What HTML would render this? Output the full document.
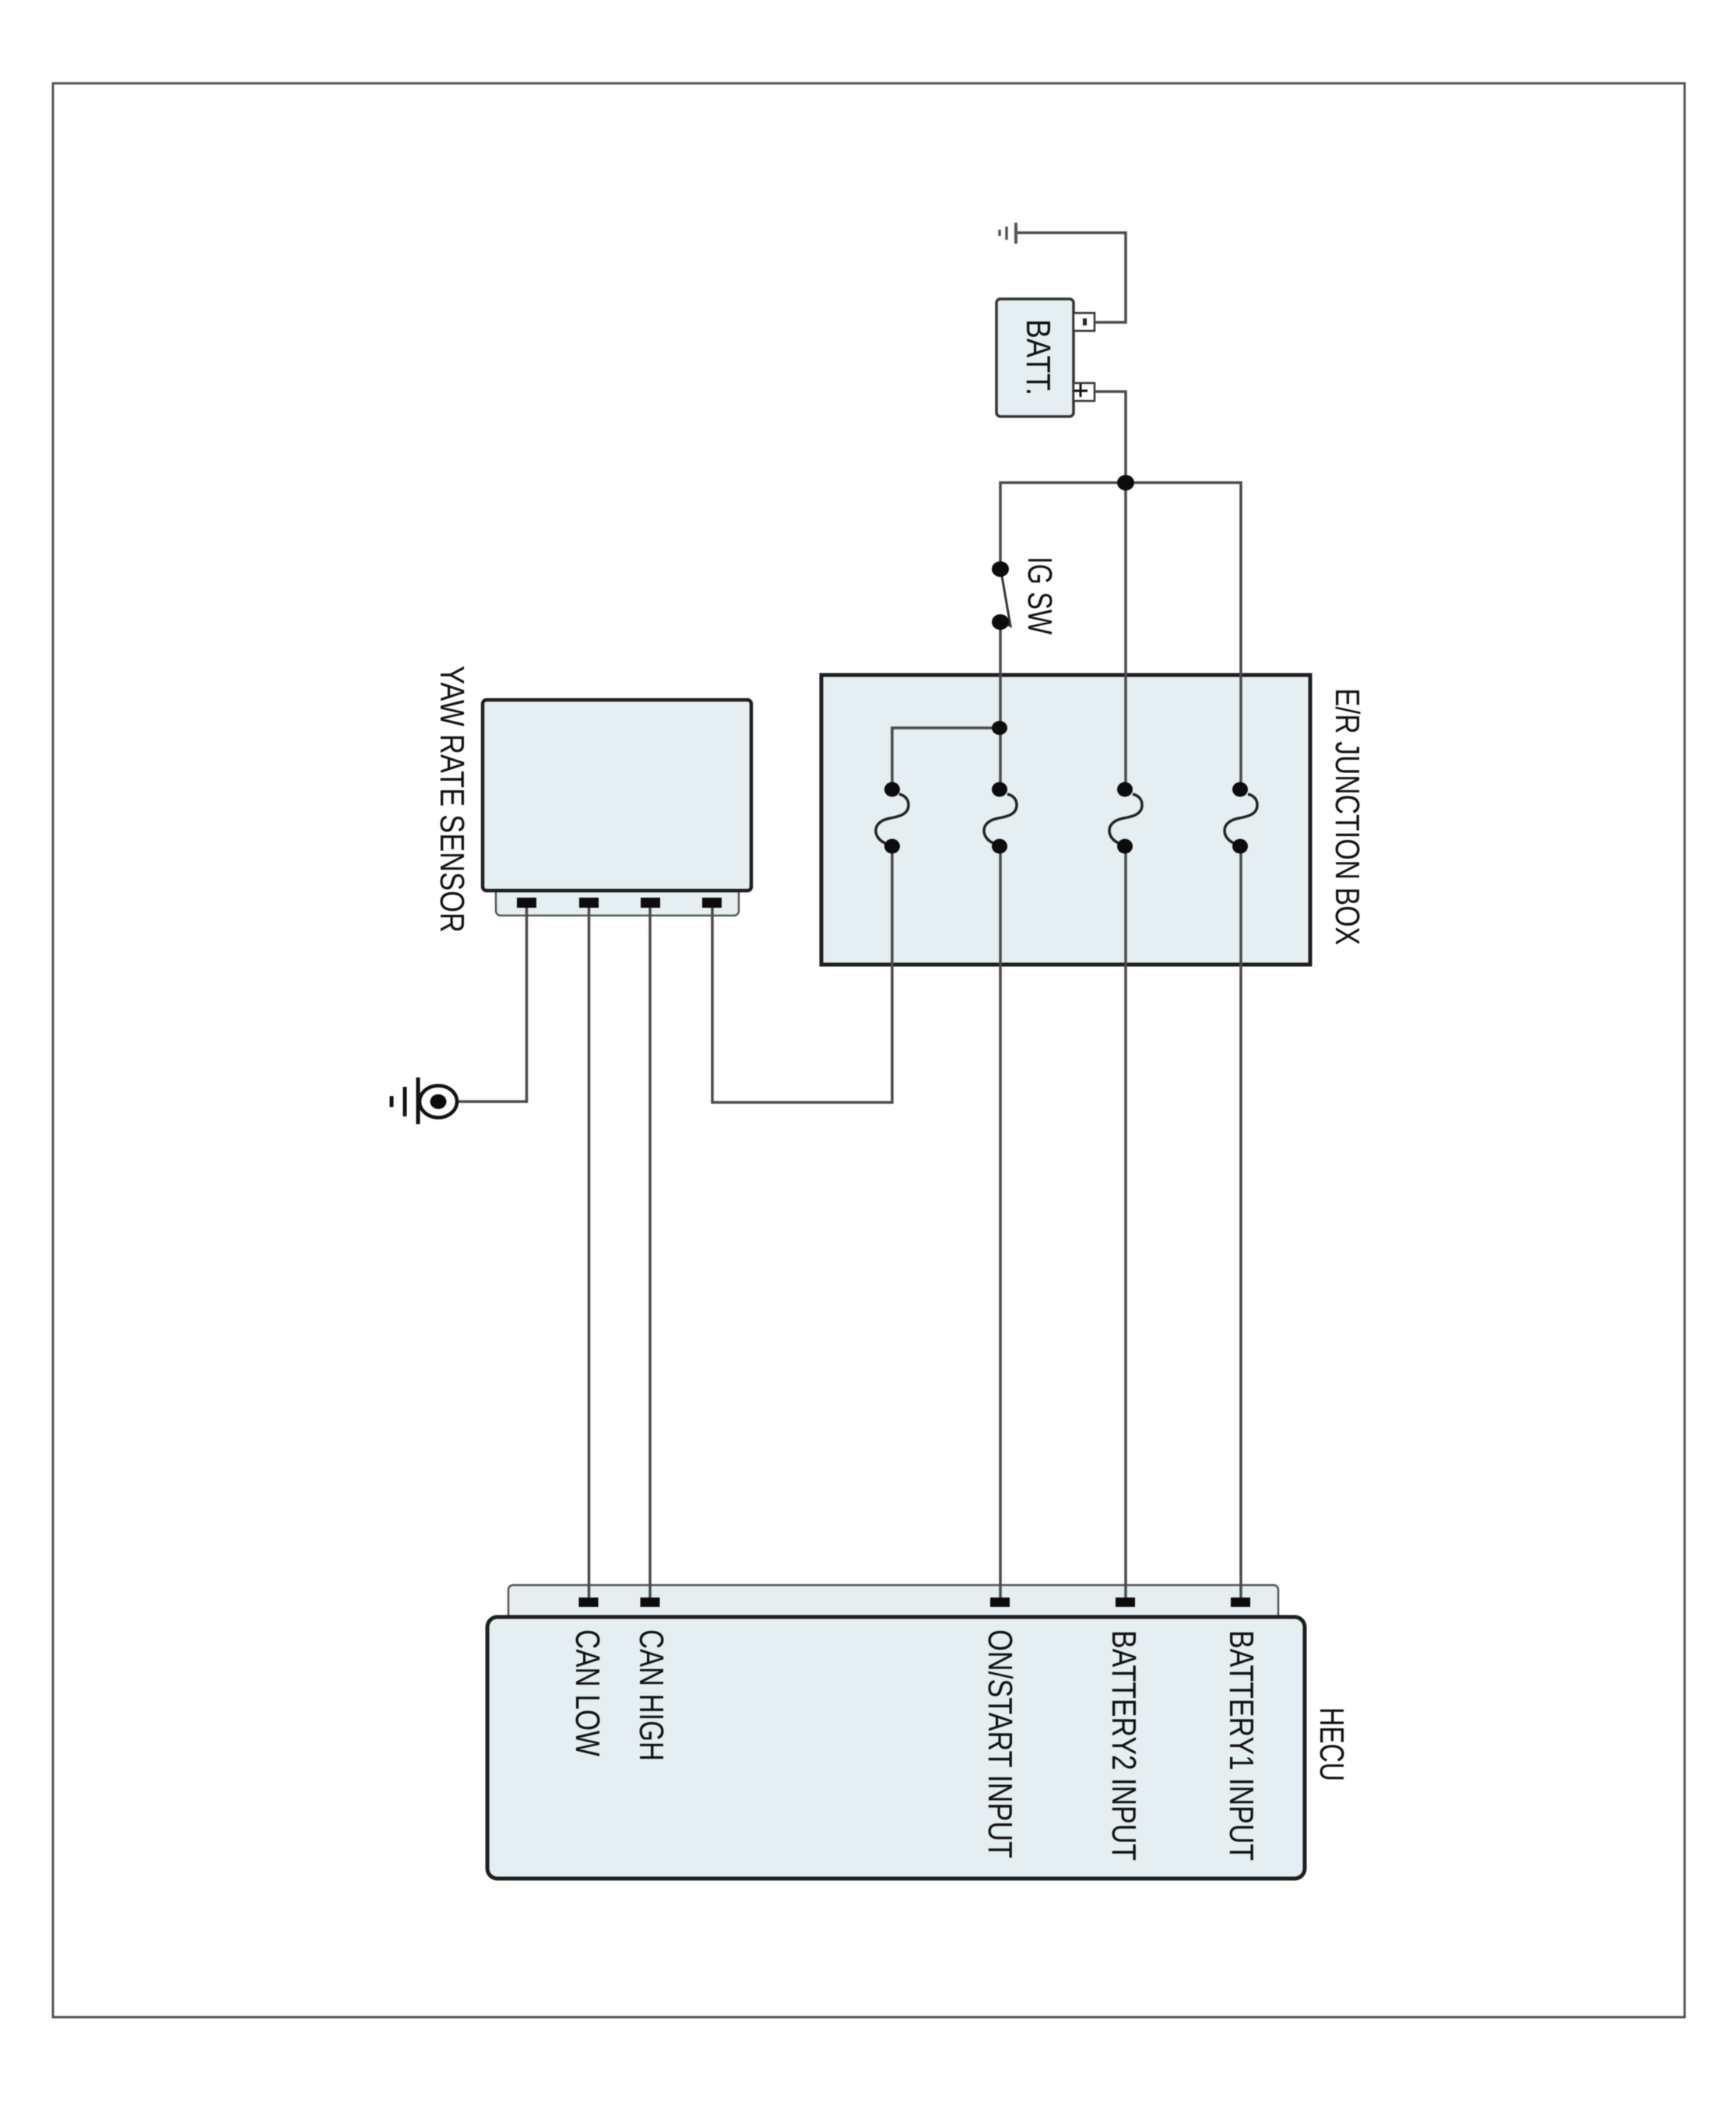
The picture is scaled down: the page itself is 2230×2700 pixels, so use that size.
<!DOCTYPE html>
<html><head><meta charset="utf-8"><title>Wiring diagram</title>
<style>
html,body{margin:0;padding:0;background:#fff}
svg{display:block;filter:blur(.55px)}
text{font-family:"Liberation Sans",sans-serif;fill:#111;font-size:44px}
</style></head><body>
<svg width="2230" height="2700" viewBox="0 0 2230 2700" xmlns="http://www.w3.org/2000/svg">
<rect width="2230" height="2700" fill="#fff"/>
<!-- frame -->
<rect x="68" y="107" width="2096" height="2484" fill="none" stroke="#555" stroke-width="3"/>

<!-- boxes -->
<rect x="1055" y="867" width="628" height="372" fill="#e5eef1" stroke="#1e1e1e" stroke-width="5"/>
<rect x="637" y="1130" width="312" height="46" rx="6" fill="#e5eef1" stroke="#555" stroke-width="2.5"/>
<rect x="620" y="899" width="345" height="245" rx="5" fill="#e5eef1" stroke="#1e1e1e" stroke-width="4.5"/>
<rect x="653" y="2036" width="989" height="60" rx="6" fill="#e5eef1" stroke="#555" stroke-width="2.5"/>
<rect x="626" y="2077" width="1050" height="336" rx="13" fill="#e5eef1" stroke="#1e1e1e" stroke-width="5"/>
<rect x="1280" y="384" width="99" height="151" rx="5" fill="#e5eef1" stroke="#333" stroke-width="3.5"/>
<rect x="1379" y="402" width="27" height="23" fill="#fff" stroke="#333" stroke-width="2.5"/>
<rect x="1379" y="492" width="27" height="23" fill="#fff" stroke="#333" stroke-width="2.5"/>
<rect x="1391" y="409" width="5" height="9" fill="#222"/>
<path d="M1380 502H1397M1388 493V510" stroke="#111" stroke-width="3" fill="none"/>

<!-- wires -->
<g fill="none" stroke="#4a4a4a" stroke-width="3.5">
<path d="M1305 299H1446V414H1406" />
<path d="M1406 503H1446V620"/>
<path d="M1285 731V620H1594V1014"/>
<path d="M1446 620V1014"/>
<path d="M1285 799V1014"/>
<path d="M1285 935H1146V1014"/>
<path d="M1146 1087V1416H915V1166"/>
<path d="M1285 1087V2052"/>
<path d="M1446 1087V2052"/>
<path d="M1594 1087V2052"/>
<path d="M676.5 1166V1415H588"/>
<path d="M756.5 1166V2052"/>
<path d="M835 1166V2052"/>
</g>
<!-- switch -->
<path d="M1287 740L1298 804L1290 800" fill="none" stroke="#333" stroke-width="3"/>
<!-- fuses -->
<g fill="none" stroke="#222" stroke-width="3.5">
<path d="M1155 1020C1163 1022 1167 1027 1167 1034C1167 1046 1155 1049 1143 1051C1133 1053 1125 1058 1125 1067C1125 1074 1130 1080 1137 1083"/>
<path d="M1294 1020C1302 1022 1306 1027 1306 1034C1306 1046 1294 1049 1282 1051C1272 1053 1264 1058 1264 1067C1264 1074 1269 1080 1276 1083"/>
<path d="M1455 1020C1463 1022 1467 1027 1467 1034C1467 1046 1455 1049 1443 1051C1433 1053 1425 1058 1425 1067C1425 1074 1430 1080 1437 1083"/>
<path d="M1603 1020C1611 1022 1615 1027 1615 1034C1615 1046 1603 1049 1591 1051C1581 1053 1573 1058 1573 1067C1573 1074 1578 1080 1585 1083"/>
</g>
<!-- dots -->
<g fill="#0c0c0c">
<ellipse cx="1446" cy="620" rx="11" ry="10"/>
<ellipse cx="1285" cy="731" rx="11" ry="10"/>
<ellipse cx="1285" cy="799" rx="11" ry="10"/>
<ellipse cx="1284" cy="935" rx="10" ry="9"/>
<ellipse cx="1146" cy="1014" rx="10" ry="9.5"/>
<ellipse cx="1284" cy="1014" rx="10" ry="9.5"/>
<ellipse cx="1445" cy="1014" rx="10" ry="9.5"/>
<ellipse cx="1593" cy="1014" rx="10" ry="9.5"/>
<ellipse cx="1146" cy="1087" rx="10" ry="9.5"/>
<ellipse cx="1284" cy="1087" rx="10" ry="9.5"/>
<ellipse cx="1445" cy="1087" rx="10" ry="9.5"/>
<ellipse cx="1593" cy="1087" rx="10" ry="9.5"/>
<!-- sensor pins -->
<rect x="664" y="1153" width="25" height="13"/>
<rect x="744" y="1153" width="25" height="13"/>
<rect x="823" y="1153" width="25" height="13"/>
<rect x="902" y="1153" width="25" height="13"/>
<!-- hecu pins -->
<rect x="743.5" y="2052" width="25" height="12"/>
<rect x="822.5" y="2052" width="25" height="12"/>
<rect x="1272" y="2052" width="25" height="12"/>
<rect x="1433" y="2052" width="25" height="12"/>
<rect x="1581" y="2052" width="25" height="12"/>
</g>
<!-- top ground -->
<path d="M1305 286V313" stroke="#555" stroke-width="4"/>
<path d="M1293 291V308" stroke="#555" stroke-width="3.5"/>
<path d="M1284 295V303" stroke="#555" stroke-width="3.5"/>
<!-- chassis ground -->
<ellipse cx="563" cy="1415" rx="24" ry="20.5" fill="#fff" stroke="#111" stroke-width="4.5"/>
<ellipse cx="563" cy="1415" rx="10.5" ry="9.5" fill="#0c0c0c"/>
<path d="M537 1384V1444" stroke="#111" stroke-width="5"/>
<path d="M520 1396V1434" stroke="#111" stroke-width="5"/>
<path d="M503 1408V1422" stroke="#111" stroke-width="5"/>

<!-- labels -->
<text transform="translate(1319 410) rotate(90)" textLength="98" lengthAdjust="spacingAndGlyphs">BATT.</text>
<text transform="translate(1321 715) rotate(90)" textLength="100" lengthAdjust="spacingAndGlyphs">IG SW</text>
<text transform="translate(1716 884) rotate(90)" textLength="330" lengthAdjust="spacingAndGlyphs">E/R JUNCTION BOX</text>
<text transform="translate(566 855) rotate(90)" textLength="343" lengthAdjust="spacingAndGlyphs">YAW RATE SENSOR</text>
<text transform="translate(740 2093) rotate(90)" textLength="163" lengthAdjust="spacingAndGlyphs">CAN LOW</text>
<text transform="translate(822 2093) rotate(90)" textLength="169" lengthAdjust="spacingAndGlyphs">CAN HIGH</text>
<text transform="translate(1270 2093) rotate(90)" textLength="294" lengthAdjust="spacingAndGlyphs">ON/START INPUT</text>
<text transform="translate(1429 2094) rotate(90)" textLength="296" lengthAdjust="spacingAndGlyphs">BATTERY2 INPUT</text>
<text transform="translate(1580 2094) rotate(90)" textLength="296" lengthAdjust="spacingAndGlyphs">BATTERY1 INPUT</text>
<text transform="translate(1696 2193) rotate(90)" textLength="95" lengthAdjust="spacingAndGlyphs">HECU</text>
</svg>
</body></html>
